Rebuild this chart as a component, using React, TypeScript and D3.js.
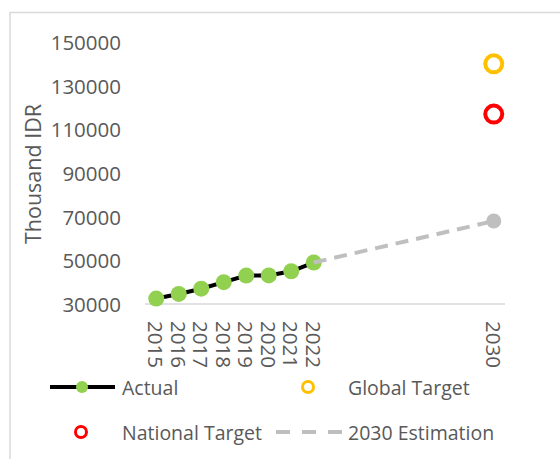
import React from "react";
import * as d3 from "d3";

const years = ["2015","2016","2017","2018","2019","2020","2021","2022","2023","2024","2025","2026","2027","2028","2029","2030"];
const tickYears = ["2015","2016","2017","2018","2019","2020","2021","2022","2030"];
const actualYears = ["2015","2016","2017","2018","2019","2020","2021","2022"];
const actualValues = [32500, 34600, 37000, 40000, 43000, 43100, 45000, 49000];
const estimationYears = ["2022","2030"];
const estimationValues = [49000, 68000];
const globalTarget = { year: "2030", value: 140000 };
const nationalTarget = { year: "2030", value: 117000 };
const yTicks = [30000, 50000, 70000, 90000, 110000, 130000, 150000];

const FONT = "'Open Sans', sans-serif";
const TXT = "#595959";

export default function App() {
  const x = d3.scaleBand<string>().domain(years).range([145, 505]);
  const cx = (y: string) => (x(y) as number) + x.bandwidth() / 2;
  const y = d3.scaleLinear().domain([30000, 150000]).range([304, 42]);
  const line = d3.line<[string, number]>().x(d => cx(d[0])).y(d => y(d[1]));
  const actual = actualYears.map((yr, i) => [yr, actualValues[i]] as [string, number]);
  const est = estimationYears.map((yr, i) => [yr, estimationValues[i]] as [string, number]);

  return (
    <svg width={560} height={459} style={{ position: "absolute", left: 0, top: 0, background: "#fff" }} fontFamily={FONT}>
      <rect x={10} y={12.5} width={560} height={460} fill="none" stroke="#D9D9D9" strokeWidth={1.5} />
      {yTicks.map(t => (
        <text key={t} x={121} y={y(t)} textAnchor="end" dominantBaseline="central" fontSize={20.5} fill={TXT}>{t}</text>
      ))}
      <text transform={`translate(32,174) rotate(-90)`} textAnchor="middle" dominantBaseline="central" fontSize={21.5} fill={TXT}>Thousand IDR</text>
      <line x1={145} x2={505} y1={304} y2={304} stroke="#D9D9D9" strokeWidth={1.5} />
      {tickYears.map(t => (
        <text key={t} transform={`translate(${cx(t)},${321}) rotate(90)`} textAnchor="start" dominantBaseline="central" fontSize={20.5} fill={TXT}>{t}</text>
      ))}
      <path d={line(actual) || ""} fill="none" stroke="#000" strokeWidth={4} />
      {actual.map(d => (
        <circle key={d[0]} cx={cx(d[0])} cy={y(d[1])} r={8} fill="#92D050" />
      ))}
      <path d={line(est) || ""} fill="none" stroke="#BFBFBF" strokeWidth={4} strokeDasharray="13 8" />
      <circle cx={cx(est[1][0])} cy={y(est[1][1])} r={7.5} fill="#BFBFBF" />
      <circle cx={cx(globalTarget.year)} cy={y(globalTarget.value)} r={8.5} fill="none" stroke="#FFC000" strokeWidth={4} />
      <circle cx={cx(nationalTarget.year)} cy={y(nationalTarget.value)} r={8.5} fill="none" stroke="#FF0000" strokeWidth={4} />

      {/* legend */}
      <line x1={50} x2={115} y1={387} y2={387} stroke="#000" strokeWidth={4} />
      <circle cx={82} cy={387} r={6} fill="#92D050" />
      <text x={122} y={387} dominantBaseline="central" fontSize={19.5} fill={TXT}>Actual</text>
      <circle cx={308} cy={387} r={5.5} fill="none" stroke="#FFC000" strokeWidth={3} />
      <text x={348} y={387} dominantBaseline="central" fontSize={19.5} fill={TXT}>Global Target</text>
      <circle cx={81} cy={432} r={5.5} fill="none" stroke="#FF0000" strokeWidth={3} />
      <text x={122} y={432} dominantBaseline="central" fontSize={19.5} fill={TXT}>National Target</text>
      <line x1={276} x2={342} y1={432} y2={432} stroke="#BFBFBF" strokeWidth={4} strokeDasharray="14 12" />
      <text x={348} y={432} dominantBaseline="central" fontSize={19.5} fill={TXT}>2030 Estimation</text>
    </svg>
  );
}
